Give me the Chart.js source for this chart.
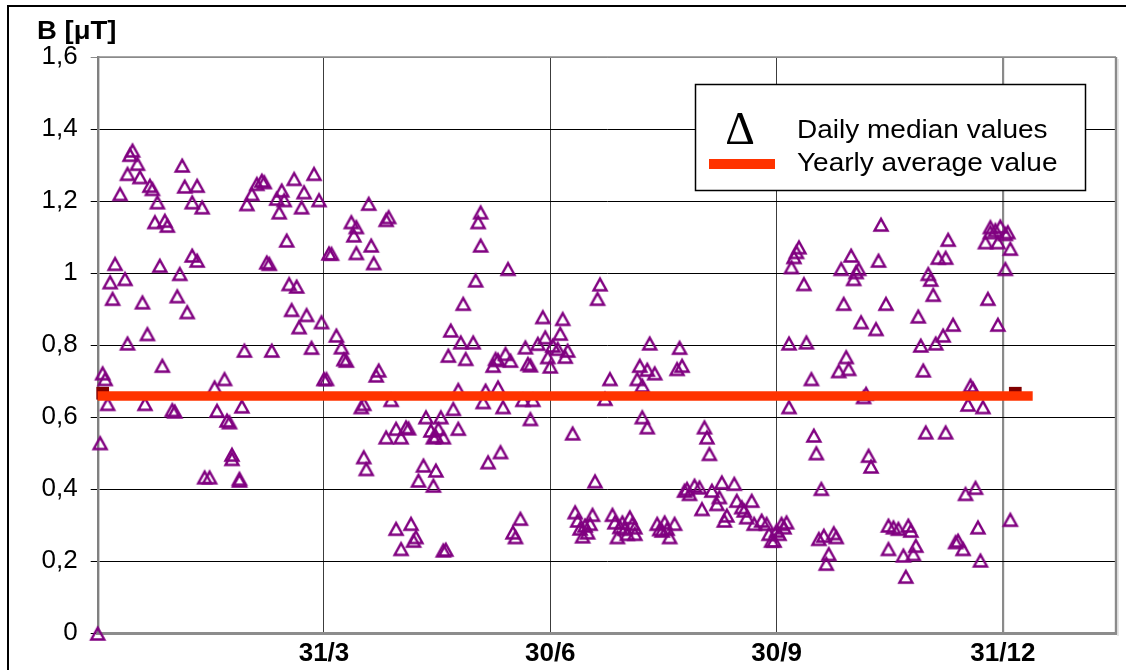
<!DOCTYPE html>
<html>
<head>
<meta charset="utf-8">
<title>B [μT] – daily median values</title>
<script src="https://cdn.jsdelivr.net/npm/chart.js@4.4.1/dist/chart.umd.min.js"></script>
<style>
  html, body { margin: 0; padding: 0; background: #ffffff; overflow: hidden; }
  canvas { display: block; }
</style>
</head>
<body>
<canvas id="chart" width="1126" height="670"></canvas>
<script>
// Day of the year for every daily median value
const dayOfYear = [
  0, 1, 2, 3, 4, 5, 6, 7, 9, 11, 12, 12, 13, 14, 16, 17, 18, 19, 20, 21,
  22, 23, 24, 25, 26, 27, 28, 30, 31, 32, 33, 34, 35, 36, 38, 38, 40, 40, 42, 43,
  45, 47, 48, 51, 52, 53, 54, 54, 57, 57, 58, 59, 60, 62, 64, 66, 67, 68, 69, 70,
  72, 73, 74, 75, 76, 77, 78, 79, 80, 81, 82, 83, 84, 86, 87, 89, 90, 91, 92, 93,
  94, 96, 98, 99, 100, 102, 103, 104, 104, 106, 107, 107, 108, 109, 110, 111, 112, 113, 116, 116,
  117, 118, 120, 120, 122, 122, 124, 125, 126, 127, 128, 129, 131, 132, 134, 135, 135, 136, 136, 137,
  138, 139, 139, 140, 141, 142, 143, 145, 145, 146, 147, 148, 151, 152, 153, 154, 154, 155, 156, 157,
  159, 160, 161, 161, 162, 163, 164, 165, 166, 167, 168, 170, 171, 172, 173, 174, 174, 175, 177, 179,
  180, 181, 182, 183, 185, 186, 187, 188, 189, 191, 192, 193, 194, 195, 196, 197, 198, 199, 200, 201, 202, 204,
  206, 207, 208, 209, 210, 211, 212, 213, 214, 215, 216, 216, 217, 218, 219, 219, 221, 221, 222, 224, 225, 226, 227,
  228, 229, 230, 232, 233, 234, 235, 236, 237, 238, 240, 242, 243, 244, 245, 246, 247, 249, 250, 251,
  252, 253, 256, 257, 259, 260, 261, 263, 264, 267, 269, 270, 271, 272, 273, 274, 275, 276, 277, 278,
  278, 279, 280, 281, 282, 284, 285, 287, 288, 289, 290, 291, 292, 293, 294, 296, 297, 298, 299, 300,
  301, 302, 303, 304, 305, 306, 307, 308, 309, 310, 311, 313, 314, 315, 317, 318, 318, 320, 322, 324,
  325, 326, 327, 328, 329, 330, 331, 332, 333, 334, 335, 336, 337, 338, 340, 341, 341, 342, 344, 345,
  346, 348, 349, 350, 351, 352, 353, 354, 355, 356, 357, 358, 359, 359, 361, 362, 362, 363, 365, 365,
  366, 367, 367
];

// Daily median of the magnetic flux density, in µT
const dailyMedian = [
  0.000, 0.529, 0.723, 0.707, 0.638, 0.976, 0.930, 1.027, 1.221, 0.985, 1.277, 0.806, 1.330, 1.342, 1.305, 1.268, 0.920, 0.638, 0.832, 1.244,
  1.235, 1.143, 1.198, 1.022, 0.744, 1.147, 1.133, 0.621, 0.617, 0.937, 0.999, 1.300, 1.242, 0.893, 1.198, 1.050, 1.244, 1.036, 1.184, 0.434,
  0.434, 0.684, 0.619, 0.707, 0.592, 0.587, 0.497, 0.485, 0.430, 0.425, 0.631, 0.786, 1.193, 1.221, 1.249, 1.258, 1.254, 1.031, 1.027, 0.786,
  1.208, 1.170, 1.231, 1.204, 1.092, 0.971, 0.899, 1.263, 0.964, 0.851, 1.184, 1.226, 0.885, 0.794, 1.277, 1.204, 0.865, 0.707, 0.707, 1.056,
  1.055, 0.828, 0.795, 0.762, 0.758, 1.143, 1.106, 1.129, 1.057, 0.629, 0.638, 0.490, 0.457, 1.194, 1.078, 1.029, 0.717, 0.731, 1.149, 0.545,
  1.157, 0.649, 0.569, 0.291, 0.545, 0.235, 0.573, 0.570, 0.305, 0.258, 0.268, 0.425, 0.467, 0.601, 0.564, 0.545, 0.411, 0.548, 0.453, 0.569,
  0.601, 0.545, 0.231, 0.233, 0.772, 0.842, 0.624, 0.677, 0.569, 0.809, 0.916, 0.763, 0.809, 0.981, 1.143, 1.170, 1.078, 0.643, 0.675, 0.476,
  0.744, 0.763, 0.760, 0.684, 0.504, 0.629, 0.777, 1.013, 0.758, 0.281, 0.268, 0.319, 0.649, 0.795, 0.749, 0.745, 0.596, 0.649, 0.805, 0.879,
  0.823, 0.768, 0.742, 0.800, 0.791, 0.833, 0.874, 0.769, 0.786, 0.556, 0.337, 0.314, 0.292, 0.270, 0.300, 0.281, 0.305, 0.330, 0.423, 0.930, 0.970, 0.652,
  0.707, 0.330, 0.309, 0.268, 0.296, 0.309, 0.291, 0.277, 0.323, 0.305, 0.277, 0.295, 0.707, 0.744, 0.689, 0.601, 0.733, 0.573, 0.806, 0.723, 0.305, 0.290, 0.286,
  0.309, 0.291, 0.268, 0.305, 0.735, 0.794, 0.744, 0.397, 0.402, 0.388, 0.411, 0.406, 0.346, 0.573, 0.545, 0.499, 0.397, 0.360, 0.379, 0.420,
  0.314, 0.328, 0.416, 0.369, 0.351, 0.342, 0.323, 0.369, 0.305, 0.314, 0.305, 0.277, 0.258, 0.258, 0.286, 0.277, 0.305, 0.295, 0.309, 0.629,
  0.806, 1.018, 1.046, 1.060, 1.073, 0.971, 0.809, 0.707, 0.550, 0.501, 0.263, 0.402, 0.272, 0.194, 0.221, 0.279, 0.268, 0.729, 1.013, 0.916,
  0.768, 0.735, 1.050, 0.985, 1.004, 1.013, 0.865, 0.657, 0.666, 0.494, 0.464, 0.846, 1.036, 1.136, 0.916, 0.300, 0.235, 0.295, 0.291, 0.217,
  0.158, 0.300, 0.286, 0.221, 0.244, 0.881, 0.800, 0.731, 0.559, 0.999, 0.983, 0.941, 0.806, 1.044, 0.828, 1.044, 0.559, 1.094, 0.858, 0.254,
  0.258, 0.235, 0.388, 0.636, 0.689, 0.680, 0.405, 0.295, 0.203, 0.629, 1.087, 0.930, 1.129, 1.115, 1.121, 1.087, 0.858, 1.131, 1.110, 1.013,
  1.115, 1.069, 0.316
];

// Yearly average, drawn as a thick band across the year
const yearlyAverage = 0.658;
const averageSpanDays = [0, 376];
const averageEndDays = [2, 369];
const averageEndValue = 0.666;

// Axis ticks
const xTickDays = [91, 182, 273, 364];
const xTickLabels = ['31/3', '30/6', '30/9', '31/12'];
const yTickValues = [0, 0.2, 0.4, 0.6, 0.8, 1, 1.2, 1.4, 1.6];
const yTickLabels = ['0', '0,2', '0,4', '0,6', '0,8', '1', '1,2', '1,4', '1,6'];

const axisTitle = 'B [μT]';
const legendLabels = ['Daily median values', 'Yearly average value'];
const legendSymbol = 'Δ';

const PURPLE = '#800080';
const AVG_RED = '#ff3300';
const AVG_DARK = '#800000';
const FONT = "'Liberation Sans', Arial, sans-serif";

// Hollow triangle marker centred on its bounding box
function makeTriangle() {
  const c = document.createElement('canvas');
  c.width = 20; c.height = 18;
  const g = c.getContext('2d');
  g.strokeStyle = PURPLE;
  g.lineWidth = 2.4;
  g.lineJoin = 'miter';
  g.beginPath();
  g.moveTo(10, 3.8);
  g.lineTo(16.5, 15.5);
  g.lineTo(3.5, 15.5);
  g.closePath();
  g.stroke();
  return c;
}
const triangleMarker = makeTriangle();

const medianPoints = dayOfYear.map((d, i) => ({ x: d, y: dailyMedian[i] }));
const averagePoints = averageSpanDays.map(d => ({ x: d, y: yearlyAverage }));
const averageEnds = averageEndDays.map(d => ({ x: d, y: averageEndValue }));

// Background, outer frame, plot frame, title and legend box
const framePlugin = {
  id: 'frame',
  beforeDraw(chart) {
    const ctx = chart.ctx;
    ctx.save();
    ctx.fillStyle = '#ffffff';
    ctx.fillRect(0, 0, chart.width, chart.height);
    ctx.strokeStyle = '#000000';
    ctx.lineWidth = 2;
    ctx.strokeRect(8, 6, chart.width + 40, chart.height + 40);
    ctx.restore();
  },
  afterDraw(chart) {
    const ctx = chart.ctx;
    const a = chart.chartArea;
    ctx.save();
    // top and right edges of the plot area
    ctx.strokeStyle = '#8a8a8a';
    ctx.lineWidth = 1.6;
    ctx.beginPath();
    ctx.moveTo(a.left, a.top);
    ctx.lineTo(a.right, a.top);
    ctx.stroke();
    ctx.lineWidth = 2.4;
    ctx.beginPath();
    ctx.moveTo(a.right, a.top);
    ctx.lineTo(a.right, a.bottom + 1.5);
    ctx.stroke();
    ctx.strokeStyle = '#cfcfcf';
    ctx.lineWidth = 1;
    ctx.beginPath();
    ctx.moveTo(a.right + 2, a.top + 2);
    ctx.lineTo(a.right + 2, a.bottom + 3);
    ctx.stroke();

    // unit title
    ctx.fillStyle = '#000000';
    ctx.textBaseline = 'alphabetic';
    ctx.textAlign = 'left';
    ctx.save();
    ctx.translate(37, 38.5);
    ctx.scale(1.1, 1);
    ctx.font = 'bold 25px ' + FONT;
    ctx.fillText(axisTitle, 0, 0);
    ctx.restore();

    // legend box
    const bx = 695.5, by = 84.5, bw = 390, bh = 106;
    ctx.fillStyle = '#ffffff';
    ctx.fillRect(bx, by, bw, bh);
    ctx.strokeStyle = '#000000';
    ctx.lineWidth = 1.5;
    ctx.strokeRect(bx, by, bw, bh);

    ctx.fillStyle = '#000000';
    ctx.font = "46px 'Liberation Serif', 'Times New Roman', serif";
    ctx.textAlign = 'center';
    ctx.fillText(legendSymbol, 740, 143.5);

    ctx.fillStyle = AVG_RED;
    ctx.fillRect(709, 159, 66, 10);

    ctx.fillStyle = '#000000';
    ctx.textAlign = 'left';
    ctx.font = '25px ' + FONT;
    [[legendLabels[0], 137.5], [legendLabels[1], 171]].forEach(([t, y]) => {
      ctx.save();
      ctx.translate(797, y);
      ctx.scale(1.12, 1);
      ctx.fillText(t, 0, 0);
      ctx.restore();
    });
    ctx.restore();
  }
};

new Chart(document.getElementById('chart'), {
  type: 'scatter',
  data: {
    datasets: [
      {
        label: legendLabels[1],
        data: averagePoints,
        showLine: true,
        borderColor: AVG_RED,
        borderWidth: 9.5,
        borderCapStyle: 'butt',
        pointRadius: 0,
        clip: false
      },
      {
        label: legendLabels[1] + ' (ends)',
        data: averageEnds,
        pointStyle: 'rect',
        pointRadius: 9,
        backgroundColor: AVG_DARK,
        borderColor: AVG_DARK,
        borderWidth: 0,
        clip: false
      },
      {
        label: legendLabels[0],
        data: medianPoints,
        pointStyle: triangleMarker,
        pointRadius: 9,
        borderColor: PURPLE,
        backgroundColor: 'rgba(0,0,0,0)',
        clip: false
      }
    ]
  },
  options: {
    responsive: false,
    devicePixelRatio: 1,
    animation: false,
    events: [],
    layout: { padding: { left: 0, right: 10, top: 57, bottom: 0 } },
    plugins: {
      legend: { display: false },
      tooltip: { enabled: false },
      title: { display: false }
    },
    scales: {
      x: {
        type: 'linear',
        min: 0,
        max: 409.5,
        afterBuildTicks(scale) { scale.ticks = xTickDays.map(v => ({ value: v })); },
        afterFit(scale) { scale.height = 37; },
        ticks: {
          autoSkip: false,
          maxRotation: 0,
          padding: 5,
          color: '#000000',
          font: { family: FONT, size: 26, weight: 'bold' },
          callback: (v, i) => xTickLabels[i]
        },
        grid: {
          drawTicks: false,
          color: c => (c.tick && c.tick.value === 364 ? '#8a8a8a' : '#3c3c3c'),
          lineWidth: c => (c.tick && c.tick.value === 364 ? 2.2 : 1)
        },
        border: { display: true, color: '#8c8c8c', width: 3 }
      },
      y: {
        type: 'linear',
        min: 0,
        max: 1.6,
        afterBuildTicks(scale) { scale.ticks = yTickValues.map(v => ({ value: v })); },
        afterFit(scale) { scale.width = 97.7; },
        ticks: {
          padding: 13,
          color: '#000000',
          font: { family: FONT, size: 26 },
          callback: (v, i) => yTickLabels[i]
        },
        grid: {
          tickLength: 7,
          color: c => (c.tick && c.tick.value === 1.6 ? '#8a8a8a' : '#000000'),
          lineWidth: 1
        },
        border: { display: true, color: '#808080', width: 2.4 }
      }
    }
  },
  plugins: [framePlugin]
});
</script>
</body>
</html>
